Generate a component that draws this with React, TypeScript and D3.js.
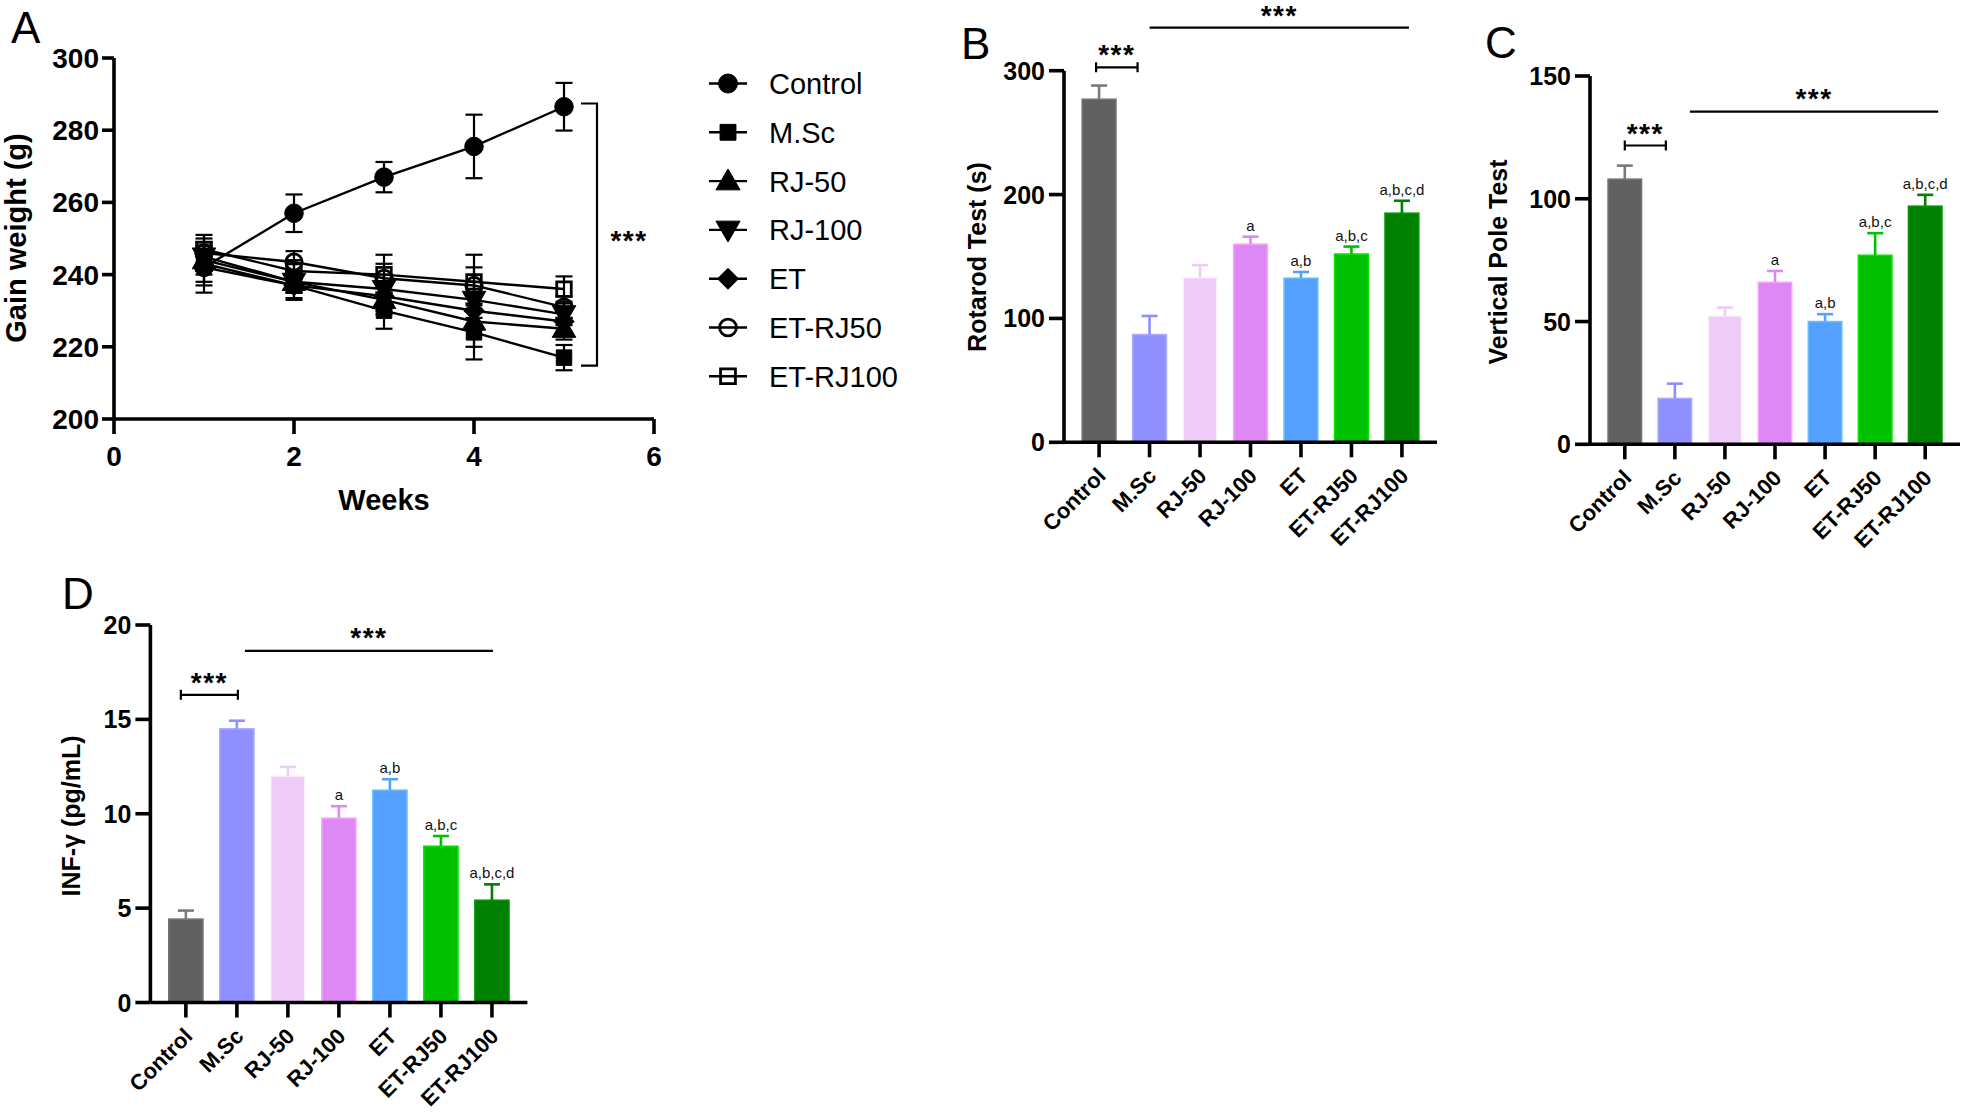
import React from 'react';
import * as d3 from 'd3';

const FONT = '"Liberation Sans", Arial, Helvetica, sans-serif';

// ---------- Panel A data ----------
const weeks = [1, 2, 3, 4, 5];
const seriesNames = ['Control', 'M.Sc', 'RJ-50', 'RJ-100', 'ET', 'ET-RJ50', 'ET-RJ100'];
const seriesShapes = ['circle', 'square', 'triUp', 'triDown', 'diamond', 'openCircle', 'openSquare'];
const controlW = [242, 257, 267, 275.5, 286.5];
const controlE = [5, 5.2, 4.2, 8.8, 6.6];
const mscW = [243, 237, 230, 224, 217];
const mscE = [5, 3.5, 5, 7.5, 3.5];
const rj50W = [244, 238, 233, 227, 225];
const rj50E = [4, 3, 4, 7, 3];
const rj100W = [245, 238, 236, 233, 229];
const rj100E = [4, 3, 4, 5, 3];
const etW = [242, 237, 234, 230, 227];
const etE = [7, 4, 4, 5, 3];
const etrj50W = [246, 243.5, 239, 237, 231];
const etrj50E = [4, 3, 4, 5, 3];
const etrj100W = [247, 241, 240, 238, 236];
const etrj100E = [4, 3, 5.5, 7.5, 3.5];
const weightTicksY = [200, 220, 240, 260, 280, 300];
const weekTicks = [0, 2, 4, 6];

// ---------- Bar panels data ----------
const categories = ['Control', 'M.Sc', 'RJ-50', 'RJ-100', 'ET', 'ET-RJ50', 'ET-RJ100'];
const barColors = ['#616161', '#8f8fff', '#efcbf8', '#dd88f5', '#55a0ff', '#00c000', '#008000'];
const rotarodMean = [277, 87, 133, 160, 132.5, 152, 185];
const rotarodSem = [11, 15, 10, 6, 5, 6, 10];
const rotarodTicks = [0, 100, 200, 300];
const poleMean = [108, 18.7, 52.3, 66, 50, 77, 97];
const poleSem = [5.5, 6, 3.4, 4.6, 3, 9, 4.6];
const poleTicks = [0, 50, 100, 150];
const infMean = [4.42, 14.5, 12.0, 9.77, 11.25, 8.28, 5.42];
const infSem = [0.45, 0.43, 0.48, 0.63, 0.58, 0.54, 0.84];
const infTicks = [0, 5, 10, 15, 20];
const letters = ['', '', '', 'a', 'a,b', 'a,b,c', 'a,b,c,d'];
const infLetters = ['', '', '', 'a', 'a,b', 'a,b,c', 'a,b,c,d'];

const AXIS_W = 3.6;

function symbolPath(shape: string, area: number) {
  const base = shape.includes('ircle') ? d3.symbolCircle
    : shape.includes('quare') || shape === 'diamond' ? d3.symbolSquare
    : d3.symbolTriangle;
  return d3.symbol().type(base).size(area)() as string;
}

function Marker({ shape, x, y, scale = 1 }: { shape: string; x: number; y: number; scale?: number }) {
  const areas: Record<string, number> = {
    circle: 270, square: 240, triUp: 240, triDown: 240, diamond: 200, openCircle: 210, openSquare: 210,
  };
  const area = areas[shape] * scale;
  const rot = shape === 'triDown' ? 180 : shape === 'diamond' ? 45 : 0;
  const dy = shape === 'triUp' ? 1.8 : shape === 'triDown' ? -1.8 : 0;
  const open = shape.startsWith('open');
  return (
    <path
      d={symbolPath(shape, area)}
      transform={`translate(${x},${y + dy}) rotate(${rot})`}
      fill={open ? 'none' : '#000'}
      stroke="#000"
      strokeWidth={open ? 2.8 : 1}
    />
  );
}

function Stars({ x, cy, size = 28 }: { x: number; cy: number; size?: number }) {
  return (
    <text x={x} y={cy + size * 0.58} textAnchor="middle" fontFamily={FONT} fontWeight="bold"
      fontSize={size} letterSpacing={1.5}>***</text>
  );
}

function PanelA() {
  const x = d3.scaleLinear().domain([0, 6]).range([114, 654]);
  const y = d3.scaleLinear().domain([200, 300]).range([419, 58]);
  const data = [controlW, mscW, rj50W, rj100W, etW, etrj50W, etrj100W];
  const errs = [controlE, mscE, rj50E, rj100E, etE, etrj50E, etrj100E];
  const line = d3.line<number>().x((_, i) => x(weeks[i])).y((v) => y(v));
  const order = [6, 5, 4, 3, 2, 1, 0];
  return (
    <g>
      <text x={11} y={43} fontFamily={FONT} fontSize={44}>A</text>
      {order.map((s) => (
        <g key={'e' + s} stroke="#000" strokeWidth={2.2}>
          {data[s].map((v, i) => (
            <g key={i}>
              <line x1={x(weeks[i])} x2={x(weeks[i])} y1={y(v - errs[s][i])} y2={y(v + errs[s][i])} />
              <line x1={x(weeks[i]) - 8.5} x2={x(weeks[i]) + 8.5} y1={y(v - errs[s][i])} y2={y(v - errs[s][i])} />
              <line x1={x(weeks[i]) - 8.5} x2={x(weeks[i]) + 8.5} y1={y(v + errs[s][i])} y2={y(v + errs[s][i])} />
            </g>
          ))}
        </g>
      ))}
      {order.map((s) => (
        <path key={'l' + s} d={line(data[s]) as string} fill="none" stroke="#000" strokeWidth={2.4} />
      ))}
      {order.map((s) => (
        <g key={'m' + s}>
          {data[s].map((v, i) => (
            <Marker key={i} shape={seriesShapes[s]} x={x(weeks[i])} y={y(v)} />
          ))}
        </g>
      ))}
      <line x1={x(0)} x2={x(6)} y1={y(200)} y2={y(200)} stroke="#000" strokeWidth={AXIS_W} />
      <line x1={x(0)} x2={x(0)} y1={y(200) + AXIS_W / 2} y2={y(300)} stroke="#000" strokeWidth={AXIS_W} />
      {weightTicksY.map((t) => (
        <g key={t}>
          <line x1={x(0) - 12} x2={x(0)} y1={y(t)} y2={y(t)} stroke="#000" strokeWidth={AXIS_W} />
          <text x={x(0) - 15} y={y(t) + 10} textAnchor="end" fontFamily={FONT} fontWeight="bold" fontSize={28}>{t}</text>
        </g>
      ))}
      {weekTicks.map((t) => (
        <g key={t}>
          <line x1={x(t)} x2={x(t)} y1={y(200)} y2={y(200) + 15} stroke="#000" strokeWidth={AXIS_W} />
          <text x={x(t)} y={y(200) + 47} textAnchor="middle" fontFamily={FONT} fontWeight="bold" fontSize={28}>{t}</text>
        </g>
      ))}
      <text x={384} y={510} textAnchor="middle" fontFamily={FONT} fontWeight="bold" fontSize={29}>Weeks</text>
      <text transform="translate(26,238) rotate(-90)" textAnchor="middle" fontFamily={FONT} fontWeight="bold" fontSize={29}>Gain weight (g)</text>
      <path d={`M581,${y(287.4)}H597V${y(214.8)}H581`} fill="none" stroke="#000" strokeWidth={2.2} />
      <Stars x={629} cy={234} />
      {seriesNames.map((n, i) => {
        const ly = 83.5 + i * 48.8;
        return (
          <g key={n}>
            <line x1={709} x2={747} y1={ly} y2={ly} stroke="#000" strokeWidth={2.4} />
            <Marker shape={seriesShapes[i]} x={728} y={ly} scale={1.05} />
            <text x={769} y={ly + 10.5} fontFamily={FONT} fontSize={29}>{n}</text>
          </g>
        );
      })}
    </g>
  );
}

type BarProps = {
  letter: string; letterX: number; letterY: number;
  x0: number; x1: number; yBase: number; yTop: number; max: number; ticks: number[];
  means: number[]; sems: number[]; labels: string[]; title: string; titleX: number; titleY: number;
  bracket: [number, number, number, number];
  longLine: [number, number, number, number];
};

function BarPanel(p: BarProps) {
  const x = d3.scaleBand<string>().domain(categories).range([p.x0, p.x1]).paddingInner(0.33).paddingOuter(0.36);
  const y = d3.scaleLinear().domain([0, p.max]).range([p.yBase, p.yTop]);
  const bw = x.bandwidth();
  const c = (k: string) => (x(k) as number) + bw / 2;
  const tickBottom = p.yBase + 15;
  const bx0 = c(categories[0]) + p.bracket[0];
  const bx1 = c(categories[1]) + p.bracket[1];
  const by = y(p.bracket[2]);
  const lx0 = c(categories[1]) + p.longLine[0];
  const lx1 = c(categories[6]) + p.longLine[1];
  const ly = y(p.longLine[2]);
  return (
    <g>
      <text x={p.letterX} y={p.letterY} fontFamily={FONT} fontSize={44}>{p.letter}</text>
      {categories.map((k, i) => {
        const col = barColors[i];
        const edge = d3.color(col)!.brighter(0.5).formatHex();
        const top = y(p.means[i]);
        const et = y(p.means[i] + p.sems[i]);
        const ec = i === 0 ? '#7a7a7a' : col;
        return (
          <g key={k}>
            <rect x={x(k)} y={top} width={bw} height={p.yBase - top} fill={col} stroke={edge} strokeWidth={1.5} />
            <line x1={c(k)} x2={c(k)} y1={top} y2={et} stroke={ec} strokeWidth={2.6} />
            <line x1={c(k) - 8} x2={c(k) + 8} y1={et} y2={et} stroke={ec} strokeWidth={2.6} />
            {p.labels[i] && (
              <text x={c(k)} y={et - 6} textAnchor="middle" fontFamily={FONT} fontSize={15} fill="#111">{p.labels[i]}</text>
            )}
          </g>
        );
      })}
      <line x1={p.x0} x2={p.x1} y1={p.yBase} y2={p.yBase} stroke="#000" strokeWidth={AXIS_W} />
      <line x1={p.x0} x2={p.x0} y1={p.yBase} y2={p.yTop} stroke="#000" strokeWidth={AXIS_W} />
      {p.ticks.map((t) => (
        <g key={t}>
          <line x1={p.x0 - 15} x2={p.x0} y1={y(t)} y2={y(t)} stroke="#000" strokeWidth={AXIS_W} />
          <text x={p.x0 - 19} y={y(t) + 9} textAnchor="end" fontFamily={FONT} fontWeight="bold" fontSize={25}>{t}</text>
        </g>
      ))}
      {categories.map((k) => (
        <g key={k}>
          <line x1={c(k)} x2={c(k)} y1={p.yBase} y2={tickBottom} stroke="#000" strokeWidth={AXIS_W} />
          <text transform={`translate(${c(k) + 8},${tickBottom + 20}) rotate(-45)`} textAnchor="end"
            fontFamily={FONT} fontWeight="bold" fontSize={22}>{k}</text>
        </g>
      ))}
      <text transform={`translate(${p.titleX + 8},${p.titleY}) rotate(-90)`} textAnchor="middle"
        fontFamily={FONT} fontWeight="bold" fontSize={25}>{p.title}</text>
      <path d={`M${bx0},${by - 5}V${by + 5}M${bx0},${by}H${bx1}M${bx1},${by - 5}V${by + 5}`} fill="none" stroke="#000" strokeWidth={2.2} />
      <Stars x={(bx0 + bx1) / 2} cy={y(p.bracket[3])} />
      <line x1={lx0} x2={lx1} y1={ly} y2={ly} stroke="#000" strokeWidth={2.2} />
      <Stars x={(lx0 + lx1) / 2} cy={y(p.longLine[3])} />
    </g>
  );
}

export default function App() {
  React.useEffect(() => {
    document.body.style.margin = '0';
  }, []);
  return (
    <svg width={1961} height={1112} viewBox="0 0 1961 1112" style={{ position: 'absolute', left: 0, top: 0, background: '#fff' }}>
      <rect width={1961} height={1112} fill="#fff" />
      <PanelA />
      <BarPanel letter="B" letterX={961} letterY={59} x0={1064} x1={1437} yBase={442.3} yTop={70.7} max={300}
        ticks={rotarodTicks} means={rotarodMean} sems={rotarodSem} labels={letters}
        title="Rotarod Test (s)" titleX={978} titleY={257}
        bracket={[-3, -12, 302.7, 318.6]} longLine={[0, 7, 334.8, 350]} />
      <BarPanel letter="C" letterX={1485} letterY={58} x0={1590} x1={1960} yBase={444.3} yTop={76} max={150}
        ticks={poleTicks} means={poleMean} sems={poleSem} labels={letters}
        title="Vertical Pole Test" titleX={1499} titleY={262}
        bracket={[0, -9, 121.7, 129.4]} longLine={[15, 13, 135.5, 143.4]} />
      <BarPanel letter="D" letterX={62} letterY={609} x0={150.4} x1={527.4} yBase={1002.5} yTop={625} max={20}
        ticks={infTicks} means={infMean} sems={infSem} labels={infLetters}
        title="INF-γ (pg/mL)" titleX={71.5} titleY={816}
        bracket={[-5, 1, 16.3, 17.33]} longLine={[8, 1, 18.63, 19.69]} />
    </svg>
  );
}
